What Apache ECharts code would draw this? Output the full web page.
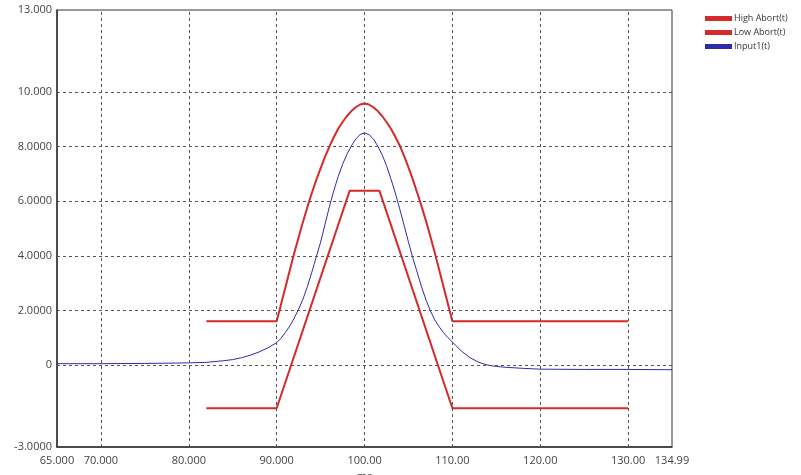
<!DOCTYPE html>
<html>
<head>
<meta charset="utf-8">
<script src="https://cdn.jsdelivr.net/npm/echarts@6/dist/echarts.min.js"></script>
<style>
  html, body { margin: 0; padding: 0; background: #fff; }
  #grafico { width: 801px; height: 475px; }
</style>
</head>
<body>
<div id="grafico"></div>
<script>
// Datos
const input1 = [
    [65, 0.05], [70, 0.05], [75, 0.06], [80, 0.08], [82, 0.1], [84, 0.16],
    [85, 0.2], [86, 0.27], [87, 0.36], [88, 0.48], [89, 0.63], [90, 0.82],
    [90.5, 0.98], [91, 1.2], [91.5, 1.43], [92, 1.72], [92.5, 2.05], [93, 2.42],
    [93.5, 2.88], [94, 3.4], [94.5, 3.95], [95, 4.5], [95.5, 5.15], [96, 5.8],
    [96.5, 6.38], [97, 6.9], [97.5, 7.35], [98, 7.72], [98.5, 8.02], [99, 8.28],
    [99.5, 8.44], [100, 8.5], [100.5, 8.44], [101, 8.28], [101.5, 8.02],
    [102, 7.7], [102.5, 7.3], [103, 6.82], [103.5, 6.3], [104, 5.72],
    [104.5, 5.12], [105, 4.5], [105.5, 3.92], [106, 3.38], [106.5, 2.85],
    [107, 2.38], [107.5, 1.98], [108, 1.65], [108.5, 1.4], [109, 1.18],
    [109.5, 1.0], [110, 0.84], [111, 0.52], [112, 0.27], [113, 0.1],
    [114, 0.0], [115, -0.05], [116, -0.08], [118, -0.12], [120, -0.15],
    [125, -0.16], [130, -0.16], [134.99, -0.17]
];
const highAbort = [
    [82, 1.6], [90, 1.6], [90.5, 2.23], [91, 2.85], [91.5, 3.48], [92, 4.1],
    [92.5, 4.68], [93, 5.25], [93.5, 5.79], [94, 6.3], [94.5, 6.77], [95, 7.2],
    [95.5, 7.62], [96, 8.0], [96.5, 8.34], [97, 8.65], [97.5, 8.9], [98, 9.12],
    [98.5, 9.3], [99, 9.44], [99.5, 9.54], [100, 9.58], [100.5, 9.54],
    [101, 9.44], [101.5, 9.3], [102, 9.12], [102.5, 8.9], [103, 8.65],
    [103.5, 8.36], [104, 8.04], [104.5, 7.66], [105, 7.24], [105.5, 6.79],
    [106, 6.3], [106.5, 5.8], [107, 5.27], [107.5, 4.7], [108, 4.1],
    [108.5, 3.48], [109, 2.85], [109.5, 2.23], [110, 1.6], [130, 1.6]
];
const lowAbort = [
    [82, -1.58], [90, -1.58], [98.3, 6.38], [101.7, 6.38], [110, -1.58], [130, -1.58]
];

// Ejes
const xTickValues = [65, 70, 80, 90, 100, 110, 120, 130, 134.99];
const xTickLabels = ['65.000', '70.000', '80.000', '90.000', '100.00', '110.00', '120.00', '130.00', '134.99'];
const yTickValues = [13, 10, 8, 6, 4, 2, 0, -3];
const yTickLabels = ['13.000', '10.000', '8.0000', '6.0000', '4.0000', '2.0000', '0', '-3.0000'];
const xGridValues = [70, 80, 90, 100, 110, 120, 130];
const yGridValues = [0, 2, 4, 6, 8, 10];

function etiqueta(valores, textos, v) {
    const i = valores.findIndex(t => Math.abs(t - v) < 1e-6);
    return i >= 0 ? textos[i] : '';
}

const chart = echarts.init(document.getElementById('grafico'), null, {renderer: 'canvas'});

const rojo = '#d42a2a';
const azul = '#2b2bb0';
const fuente = 'Open Sans';

const gridLines = xGridValues.map(v => ({xAxis: v}))
    .concat(yGridValues.map(v => ({yAxis: v})));

chart.setOption({
    animation: false,
    textStyle: {fontFamily: fuente},
    grid: {
        left: 57, right: 129, top: 10, bottom: 28,
        outerBoundsMode: 'none',
        containLabel: false,
        show: true, borderColor: '#333', borderWidth: 1
    },
    legend: {
        orient: 'vertical',
        left: 700, top: 9,
        itemWidth: 27, itemHeight: 5, itemGap: 5,
        icon: 'rect',
        textStyle: {fontSize: 9, color: '#333', fontFamily: fuente, padding: [0, 0, 0, -3]},
        data: ['High Abort(t)', 'Low Abort(t)', 'Input1(t)']
    },
    xAxis: {
        type: 'value',
        min: 65, max: 134.99, interval: 5,
        name: 'ms', nameLocation: 'middle', nameGap: 24,
        nameTextStyle: {fontSize: 11, color: '#444'},
        axisLine: {show: true, onZero: false, lineStyle: {color: '#333', width: 1.5}},
        axisTick: {show: false},
        splitLine: {show: false},
        axisLabel: {
            fontSize: 11, color: '#444', margin: 8,
            showMaxLabel: true, showMinLabel: true,
            formatter: v => etiqueta(xTickValues, xTickLabels, v)
        }
    },
    yAxis: {
        type: 'value',
        min: -3, max: 13, interval: 1,
        axisLine: {show: true, onZero: false, lineStyle: {color: '#333', width: 1.5}},
        axisTick: {show: false},
        splitLine: {show: false},
        axisLabel: {
            fontSize: 11, color: '#444', margin: 5,
            formatter: v => etiqueta(yTickValues, yTickLabels, v)
        }
    },
    series: [
        {
            name: 'grid',
            type: 'line',
            data: [],
            z: 1,
            markLine: {
                silent: true,
                symbol: 'none',
                label: {show: false},
                lineStyle: {color: '#555', type: [3, 3], width: 1},
                data: gridLines
            }
        },
        {
            name: 'High Abort(t)',
            type: 'line',
            data: highAbort,
            showSymbol: false,
            color: rojo,
            lineStyle: {color: rojo, width: 2},
            z: 3
        },
        {
            name: 'Low Abort(t)',
            type: 'line',
            data: lowAbort,
            showSymbol: false,
            color: rojo,
            lineStyle: {color: rojo, width: 2},
            z: 3
        },
        {
            name: 'Input1(t)',
            type: 'line',
            data: input1,
            showSymbol: false,
            color: azul,
            lineStyle: {color: azul, width: 1},
            z: 4
        }
    ]
});
</script>
</body>
</html>
